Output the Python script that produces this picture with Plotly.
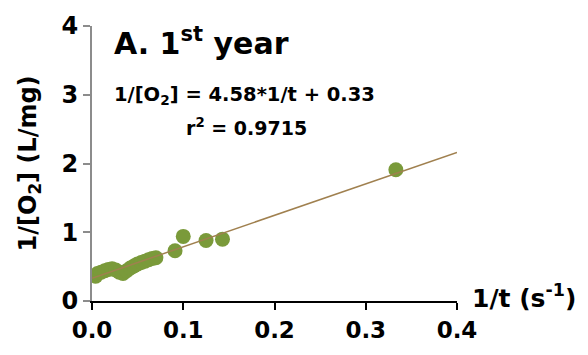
import plotly.graph_objects as go

inv_t = [0.004, 0.006, 0.010, 0.014, 0.018, 0.022, 0.026, 0.030, 0.034, 0.038,
         0.042, 0.046, 0.050, 0.054, 0.058, 0.062, 0.066, 0.070,
         0.091, 0.100, 0.125, 0.143, 0.333]
inv_o2 = [0.36, 0.40, 0.42, 0.44, 0.46, 0.47, 0.45, 0.42, 0.40, 0.44,
          0.48, 0.51, 0.54, 0.56, 0.58, 0.60, 0.62, 0.63,
          0.73, 0.94, 0.88, 0.90, 1.91]
slope = 4.58
intercept = 0.33
fit_x = [0.0, 0.4]
fit_y = [slope * v + intercept for v in fit_x]

x_ticks = [0.0, 0.1, 0.2, 0.3, 0.4]
y_ticks = [0, 1, 2, 3, 4]

FONT = "DejaVu Sans"

fig = go.Figure()
fig.add_trace(go.Scatter(x=inv_t, y=inv_o2, mode="markers",
                         marker=dict(size=15, color="#7a9a3a", line=dict(width=0)),
                         showlegend=False))
fig.add_trace(go.Scatter(x=fit_x, y=fit_y, mode="lines",
                         line=dict(color="#a0804f", width=1.5), showlegend=False))

fig.update_layout(
    width=588, height=355,
    margin=dict(l=92, r=131, t=24, b=50),
    plot_bgcolor="white", paper_bgcolor="white",
    font=dict(family=FONT, color="black"),
    xaxis=dict(range=[0, 0.4], tickvals=x_ticks, ticktext=[f"{v:.1f}" for v in x_ticks],
               showgrid=False, zeroline=False, showline=True, linecolor="black", linewidth=2,
               ticks="outside", ticklen=7, tickwidth=2, tickcolor="black",
               tickfont=dict(size=23, family=FONT, weight="bold")),
    yaxis=dict(range=[0, 4], tickvals=y_ticks,
               showgrid=False, zeroline=False, showline=True, linecolor="#8c8c8c", linewidth=2,
               ticks="outside", ticklen=7, tickwidth=2, tickcolor="#8c8c8c",
               tickfont=dict(size=24, family=FONT, weight="bold")),
    annotations=[
        dict(text="<b>A. 1<sup>st</sup> year</b>", xref="paper", yref="paper",
             x=0.055, y=0.943, xanchor="left", yanchor="middle", showarrow=False,
             font=dict(size=30, family=FONT)),
        dict(text="<b>1/[O<sub>2</sub>] = 4.58*1/t + 0.33</b>", xref="paper", yref="paper",
             x=0.055, y=0.747, xanchor="left", yanchor="middle", showarrow=False,
             font=dict(size=19.5, family=FONT)),
        dict(text="<b>r<sup>2</sup> = 0.9715</b>", xref="paper", yref="paper",
             x=0.595, y=0.633, xanchor="right", yanchor="middle", showarrow=False,
             font=dict(size=19, family=FONT)),
        dict(text="<b>1/[O<sub>2</sub>] (L/mg)</b>", xref="paper", yref="paper",
             x=-0.17, y=0.50, xanchor="center", yanchor="middle", textangle=-90,
             showarrow=False, font=dict(size=24, family=FONT)),
        dict(text="<b>1/t (s<sup>-1</sup>)</b>", xref="paper", yref="paper",
             x=1.036, y=0.018, xanchor="left", yanchor="middle",
             showarrow=False, font=dict(size=25, family=FONT)),
    ],
)

fig.write_html("out.html")
